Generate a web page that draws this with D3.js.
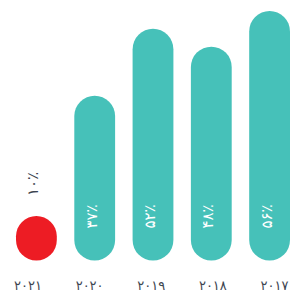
<!DOCTYPE html>
<html lang="fa">
<head>
<meta charset="utf-8">
<script src="https://cdn.jsdelivr.net/npm/d3@7"></script>
<style>
  html, body { margin: 0; padding: 0; background: #fff; }
  svg { display: block; font-family: "DejaVu Sans", sans-serif; }
</style>
</head>
<body>
<div id="chart"></div>
<script>
    // years run right to left, so 2021 is the leftmost pill
    var years = ["۲۰۲۱", "۲۰۲۰", "۲۰۱۹", "۲۰۱۸", "۲۰۱۷"];
    var values = [10, 37, 52, 48, 56];
    var highlightYear = "۲۰۲۱";

    var width = 290, height = 298;

    // western digits -> persian digits, with the arabic percent sign
    var faDigits = "۰۱۲۳۴۵۶۷۸۹";
    function toFa(n) {
        return String(n).replace(/[0-9]/g, function (c) { return faDigits[+c]; }) + "٪";
    }

    var svg = d3.select("#chart").append("svg")
                .attr("width", width)
                .attr("height", height);

    var x = d3.scaleBand()
              .domain(years)
              .range([16, 290])
              .paddingInner(0.3);

    // the year labels sit on a slightly wider spread than the pills
    var xLabel = d3.scalePoint()
              .domain(years)
              .range([28, 274.5]);

    var y = d3.scaleLinear()
              .domain([0, d3.max(values)])
              .range([260.5, 11]);

    var data = years.map(function (yr, i) { return {year: yr, value: values[i]}; });

    function pillH(d) { return y(0) - y(d.value); }
    function isInside(d) { return pillH(d) > 80; }

    // the pills
    svg.selectAll("rect.bar")
        .data(data)
        .enter()
        .append("rect")
        .attr("class", "bar")
        .attr("x", function (d) { return x(d.year); })
        .attr("y", function (d) { return y(d.value); })
        .attr("width", x.bandwidth())
        .attr("height", pillH)
        .attr("rx", x.bandwidth() / 2)
        .attr("ry", x.bandwidth() / 2)
        .style("fill", function (d) { return d.year === highlightYear ? "#ed1c24" : "#46c1b9"; });

    // value labels, reading upwards; inside the pill when it is tall enough
    svg.selectAll("text.val")
        .data(data)
        .enter()
        .append("text")
        .attr("class", "val")
        .attr("transform", function (d) {
            var cy = isInside(d) ? y(0) - 44 : y(d.value) - 32;
            return "translate(" + (x(d.year) + x.bandwidth() / 2 - 3) + "," + cy + ") rotate(-90)";
        })
        .attr("text-anchor", "middle")
        .attr("dominant-baseline", "central")
        .attr("font-size", "15px")
        .attr("fill", function (d) { return isInside(d) ? "#ffffff" : "#3d4550"; })
        .text(function (d) { return toFa(d.value); });

    // year labels along the bottom
    svg.selectAll("text.year")
        .data(years)
        .enter()
        .append("text")
        .attr("class", "year")
        .attr("x", function (d) { return xLabel(d); })
        .attr("y", 290)
        .attr("text-anchor", "middle")
        .attr("font-size", "13px")
        .attr("fill", "#3d4550")
        .text(function (d) { return d; });
</script>
</body>
</html>
